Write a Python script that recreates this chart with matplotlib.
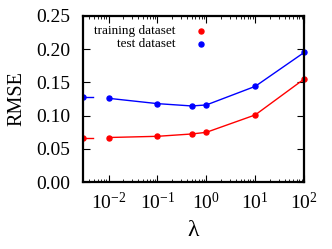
import matplotlib
matplotlib.use("Agg")
import matplotlib.pyplot as plt
import matplotlib.transforms as mtransforms
from matplotlib.ticker import LogLocator

plt.rcParams['font.family'] = ['Liberation Serif', 'DejaVu Serif']
plt.rcParams['mathtext.fontset'] = 'custom'
plt.rcParams['mathtext.rm'] = 'Liberation Serif'
plt.rcParams['mathtext.it'] = 'Liberation Serif:italic'

lambdas = [0.01, 0.1, 0.5, 1, 10, 100]
train_rmse = [0.067, 0.0688, 0.0723, 0.0748, 0.101, 0.155]
test_rmse = [0.126, 0.118, 0.1145, 0.116, 0.144, 0.195]
# values at lambda = 0 (drawn as stubs on the left axis)
train_zero = 0.067
test_zero = 0.1285

series_labels = ['training dataset', 'test dataset']
series_colors = ['#ff0000', '#0000ff']

y_ticks = [0.00, 0.05, 0.10, 0.15, 0.20, 0.25]
y_ticklabels = ["0.00", "0.05", "0.10", "0.15", "0.20", "0.25"]
x_ticks = [1e-2, 1e-1, 1e0, 1e1, 1e2]
x_ticklabels = [r"$10^{-2}$", r"$10^{-1}$", r"$10^{0}$", r"$10^{1}$", r"$10^{2}$"]

fig = plt.figure(figsize=(3.32, 2.49), dpi=100)
ax = fig.add_axes([0.25, 0.269, 0.666, 0.667])

ms = 3.6
for ys, col in zip([train_rmse, test_rmse], series_colors):
    ax.plot(lambdas, ys, '-', color=col, lw=1.0, marker='o', ms=ms, clip_on=False)

trans = mtransforms.blended_transform_factory(ax.transAxes, ax.transData)
for val, col in zip([train_zero, test_zero], series_colors):
    ax.plot([0, 0.045], [val, val], '-', color=col, lw=1.0, transform=trans, clip_on=True)
    ax.plot([0.002], [val], 'o', color=col, ms=ms, transform=trans, clip_on=True)

# legend (gnuplot style: right-aligned text, marker to the right)
for i, (lab, col) in enumerate(zip(series_labels, series_colors)):
    yy = 0.91 - i * 0.08
    ax.text(0.42, yy, lab, transform=ax.transAxes, ha='right', va='center', fontsize=9.5)
    ax.plot([0.534], [yy], 'o', color=col, ms=ms, transform=ax.transAxes)

ax.set_xscale('log')
ax.set_xlim(0.003, 100)
ax.set_ylim(0, 0.25)
ax.set_yticks(y_ticks)
ax.set_yticklabels(y_ticklabels)
ax.set_xticks(x_ticks)
ax.set_xticklabels(x_ticklabels)
ax.xaxis.set_minor_locator(LogLocator(base=10, subs=range(2, 10), numticks=20))
ax.tick_params(which='both', direction='in', top=True, right=True, labelsize=14)
ax.tick_params(which='major', length=5, width=0.8)
ax.tick_params(which='minor', length=2.5, width=0.6)
ax.tick_params(axis='x', pad=7)
ax.tick_params(axis='y', pad=9)
for s in ax.spines.values():
    s.set_linewidth(1.6)

ax.set_ylabel('RMSE', fontsize=14.5, labelpad=7)
ax.set_xlabel('λ', fontsize=17, labelpad=5)

fig.savefig('out.png', dpi=100)
